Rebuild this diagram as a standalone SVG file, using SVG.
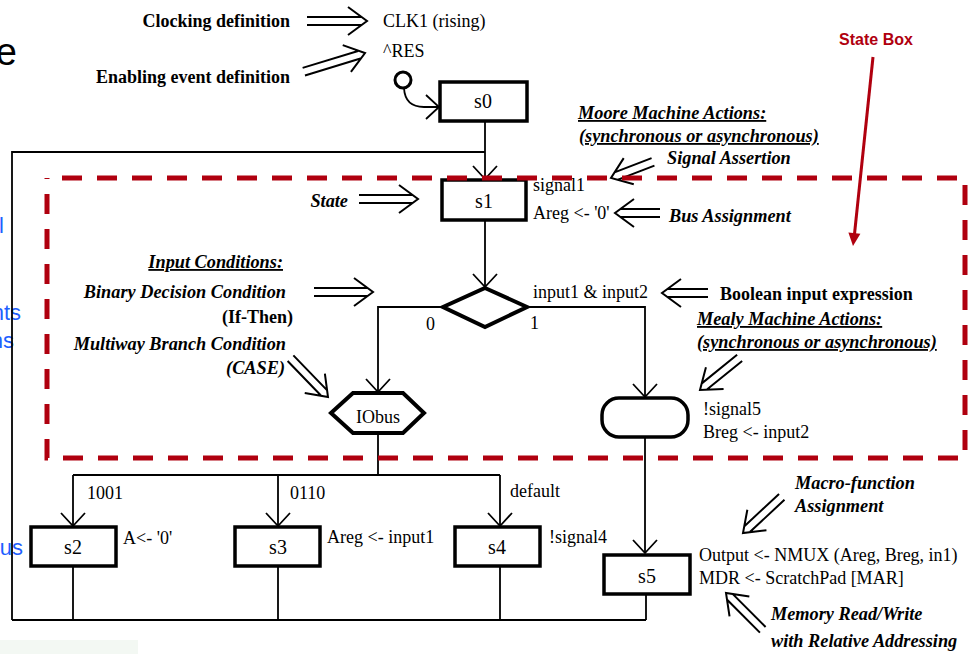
<svg xmlns="http://www.w3.org/2000/svg" width="970" height="654" viewBox="0 0 970 654">
<style>
.t{font-family:"Liberation Serif","Times New Roman",serif;font-size:18px;fill:#000}
.b{font-family:"Liberation Serif","Times New Roman",serif;font-size:18px;font-weight:bold;fill:#000}
.bi{font-family:"Liberation Serif","Times New Roman",serif;font-size:18.3px;font-weight:bold;font-style:italic;fill:#000}
.u{text-decoration:underline}
.sl{font-family:"Liberation Serif","Times New Roman",serif;font-size:20px;fill:#000;text-anchor:middle}
.box{fill:#fff;stroke:#000;stroke-width:3.5}
.ln{fill:none;stroke:#000;stroke-width:1.8}
.dbl{fill:none;stroke:#000;stroke-width:2}
.blue{font-family:"Liberation Sans",Arial,sans-serif;font-size:22px;fill:#1f5fff;text-anchor:end}
</style>
<defs>
<marker id="ah" viewBox="-15 -15 17 30" refX="0" refY="0" markerWidth="17" markerHeight="30" markerUnits="userSpaceOnUse" orient="auto">
<path d="M-13,-12 L0,0 L-13,12" fill="none" stroke="#000" stroke-width="1.8"/>
</marker>
</defs>
<rect width="970" height="654" fill="#fff"/>
<rect x="0" y="640" width="138" height="14" fill="#f3f8f3"/>
<g id="background-fragments">
<text x="17" y="65" font-family="Liberation Sans,Arial,sans-serif" font-size="38" text-anchor="end" fill="#000">e</text>
<text class="blue" x="4" y="233">l</text>
<text class="blue" x="21" y="320">nts</text>
<text class="blue" x="14" y="348">ns</text>
<text class="blue" x="23" y="555">us</text>
</g>

<g id="connectors">
<path class="ln" d="M404,88 Q405,107 424,107 L439,107" marker-end="url(#ah)"/>
<path class="ln" d="M485,121 V179" marker-end="url(#ah)"/>
<path class="ln" d="M12,620 V152 H485"/>
<path class="ln" d="M12,620 H646"/>
<path class="ln" d="M73,566 V620 M278,566 V620 M500,566 V620 M646,594 V620"/>
<path class="ln" d="M485,220 V287" marker-end="url(#ah)"/>
<path class="ln" d="M443,307 H378 V392" marker-end="url(#ah)"/>
<path class="ln" d="M527,307 H645 V397" marker-end="url(#ah)"/>
<path class="ln" d="M378,433 V475 M73,475 H500"/>
<path class="ln" d="M73,475 V526" marker-end="url(#ah)"/>
<path class="ln" d="M278,475 V526" marker-end="url(#ah)"/>
<path class="ln" d="M500,475 V526" marker-end="url(#ah)"/>
<path class="ln" d="M645,437 V553" marker-end="url(#ah)"/>
<text class="t" x="426" y="330" font-size="19">0</text>
<text class="t" x="530" y="329" font-size="19">1</text>
<text class="t" x="533" y="298">input1 &amp; input2</text>
<text class="t" x="87" y="499">1001</text>
<text class="t" x="290" y="499">0110</text>
<text class="t" x="510" y="497">default</text>
</g>

<g id="reset">
<circle cx="403" cy="80" r="8" fill="#fff" stroke="#000" stroke-width="3"/>
</g>
<g id="s0">
<rect class="box" x="440" y="82" width="87" height="39" stroke-width="3"/>
<text class="sl" x="483" y="108" font-size="18">s0</text>
</g>
<g id="s1">
<rect class="box" x="442" y="180" width="84" height="40"/>
<text class="sl" x="484" y="208">s1</text>
<text class="t" x="533" y="191">signal1</text>
<text class="t" x="533" y="219">Areg &lt;- '0'</text>
</g>
<g id="decision">
<polygon points="485,288 527,307 485,327 443,307" fill="#fff" stroke="#000" stroke-width="4" stroke-linejoin="miter"/>
</g>
<g id="IObus">
<polygon points="331,413 353,393 403,393 424,413 403,433 353,433" fill="#fff" stroke="#000" stroke-width="4"/>
<text class="t" x="378" y="423" text-anchor="middle">IObus</text>
</g>
<g id="mealy">
<rect class="box" x="602" y="398" width="86" height="39" rx="17"/>
<text class="t" x="703" y="415">!signal5</text>
<text class="t" x="703" y="438">Breg &lt;- input2</text>
</g>
<g id="s2">
<rect class="box" x="31" y="527" width="85" height="39"/>
<text class="sl" x="73" y="554">s2</text>
<text class="t" x="123" y="544">A&lt;- '0'</text>
</g>
<g id="s3">
<rect class="box" x="235" y="527" width="85" height="39"/>
<text class="sl" x="278" y="554">s3</text>
<text class="t" x="327" y="543">Areg &lt;- input1</text>
</g>
<g id="s4">
<rect class="box" x="455" y="527" width="85" height="39"/>
<text class="sl" x="497" y="554">s4</text>
<text class="t" x="549" y="543">!signal4</text>
</g>
<g id="s5">
<rect class="box" x="604" y="555" width="86" height="39"/>
<text class="sl" x="647" y="583">s5</text>
<text class="t" x="699" y="561">Output &lt;- NMUX (Areg, Breg, in1)</text>
<text class="t" x="699" y="584">MDR &lt;- ScratchPad [MAR]</text>
</g>

<g id="annotations">
<text class="b" x="290" y="27" text-anchor="end">Clocking definition</text>
<text class="t" x="383" y="27" font-size="16.5">CLK1 (rising)</text>
<text class="t" x="383" y="57" font-size="16.5">^RES</text>
<text class="b" x="290" y="83" text-anchor="end">Enabling event definition</text>
<text class="bi u" x="578" y="119">Moore Machine Actions:</text>
<text class="bi u" x="579" y="142">(synchronous or asynchronous)</text>
<text class="bi" x="667" y="164">Signal Assertion</text>
<text class="bi" x="348" y="207" text-anchor="end">State</text>
<text class="bi" x="669" y="222">Bus Assignment</text>
<text class="bi u" x="283" y="268" text-anchor="end">Input Conditions:</text>
<text class="bi" x="286" y="298" text-anchor="end">Binary Decision Condition</text>
<text class="b" x="293" y="323" text-anchor="end">(If-Then)</text>
<text class="bi" x="286" y="350" text-anchor="end">Multiway Branch Condition</text>
<text class="bi" x="285" y="374" text-anchor="end">(CASE)</text>
<text class="b" x="720" y="300">Boolean input expression</text>
<text class="bi u" x="697" y="325">Mealy Machine Actions:</text>
<text class="bi u" x="697" y="348">(synchronous or asynchronous)</text>
<text class="bi" x="795" y="489">Macro-function</text>
<text class="bi" x="795" y="512">Assignment</text>
<text class="bi" x="771" y="620">Memory Read/Write</text>
<text class="bi" x="771" y="647">with Relative Addressing</text>
<path class="dbl" transform="translate(367,21)" d="M-60,-4 H-6 M-60,4 H-6 M-19,-14 L0,0 L-19,14"/>
<path class="dbl" transform="translate(365,53) rotate(-17)" d="M-64,-4 H-6 M-64,4 H-6 M-19,-14 L0,0 L-19,14"/>
<path class="dbl" transform="translate(611,178) rotate(159)" d="M-45,-4 H-6 M-45,4 H-6 M-19,-14 L0,0 L-19,14"/>
<path class="dbl" transform="translate(418,199)" d="M-59,-4 H-6 M-59,4 H-6 M-19,-14 L0,0 L-19,14"/>
<path class="dbl" transform="translate(615,213) rotate(180)" d="M-45,-4 H-6 M-45,4 H-6 M-19,-14 L0,0 L-19,14"/>
<path class="dbl" transform="translate(373,292)" d="M-59,-4 H-6 M-59,4 H-6 M-19,-14 L0,0 L-19,14"/>
<path class="dbl" transform="translate(328,397) rotate(46)" d="M-54,-4 H-6 M-54,4 H-6 M-19,-14 L0,0 L-19,14"/>
<path class="dbl" transform="translate(662,293) rotate(180)" d="M-46,-4 H-6 M-46,4 H-6 M-19,-14 L0,0 L-19,14"/>
<path class="dbl" transform="translate(700,390) rotate(141)" d="M-51,-4 H-6 M-51,4 H-6 M-19,-14 L0,0 L-19,14"/>
<path class="dbl" transform="translate(743,533) rotate(137)" d="M-53,-4 H-6 M-53,4 H-6 M-19,-14 L0,0 L-19,14"/>
<path class="dbl" transform="translate(726,593) rotate(-135)" d="M-52,-4 H-6 M-52,4 H-6 M-19,-14 L0,0 L-19,14"/>
</g>

<g id="state-box">
<rect x="47" y="178" width="918" height="280" fill="none" stroke="#b0000f" stroke-width="5" stroke-dasharray="20 15" stroke-dashoffset="20"/>
<text x="876" y="45" font-family="Liberation Sans,Arial,sans-serif" font-size="16" font-weight="bold" fill="#b0000f" text-anchor="middle">State Box</text>
<line x1="873" y1="57" x2="854.5" y2="234" stroke="#b0000f" stroke-width="3"/>
<polygon points="853,246 860.4,233.7 848.4,232.5" fill="#b0000f"/>
</g>
</svg>
